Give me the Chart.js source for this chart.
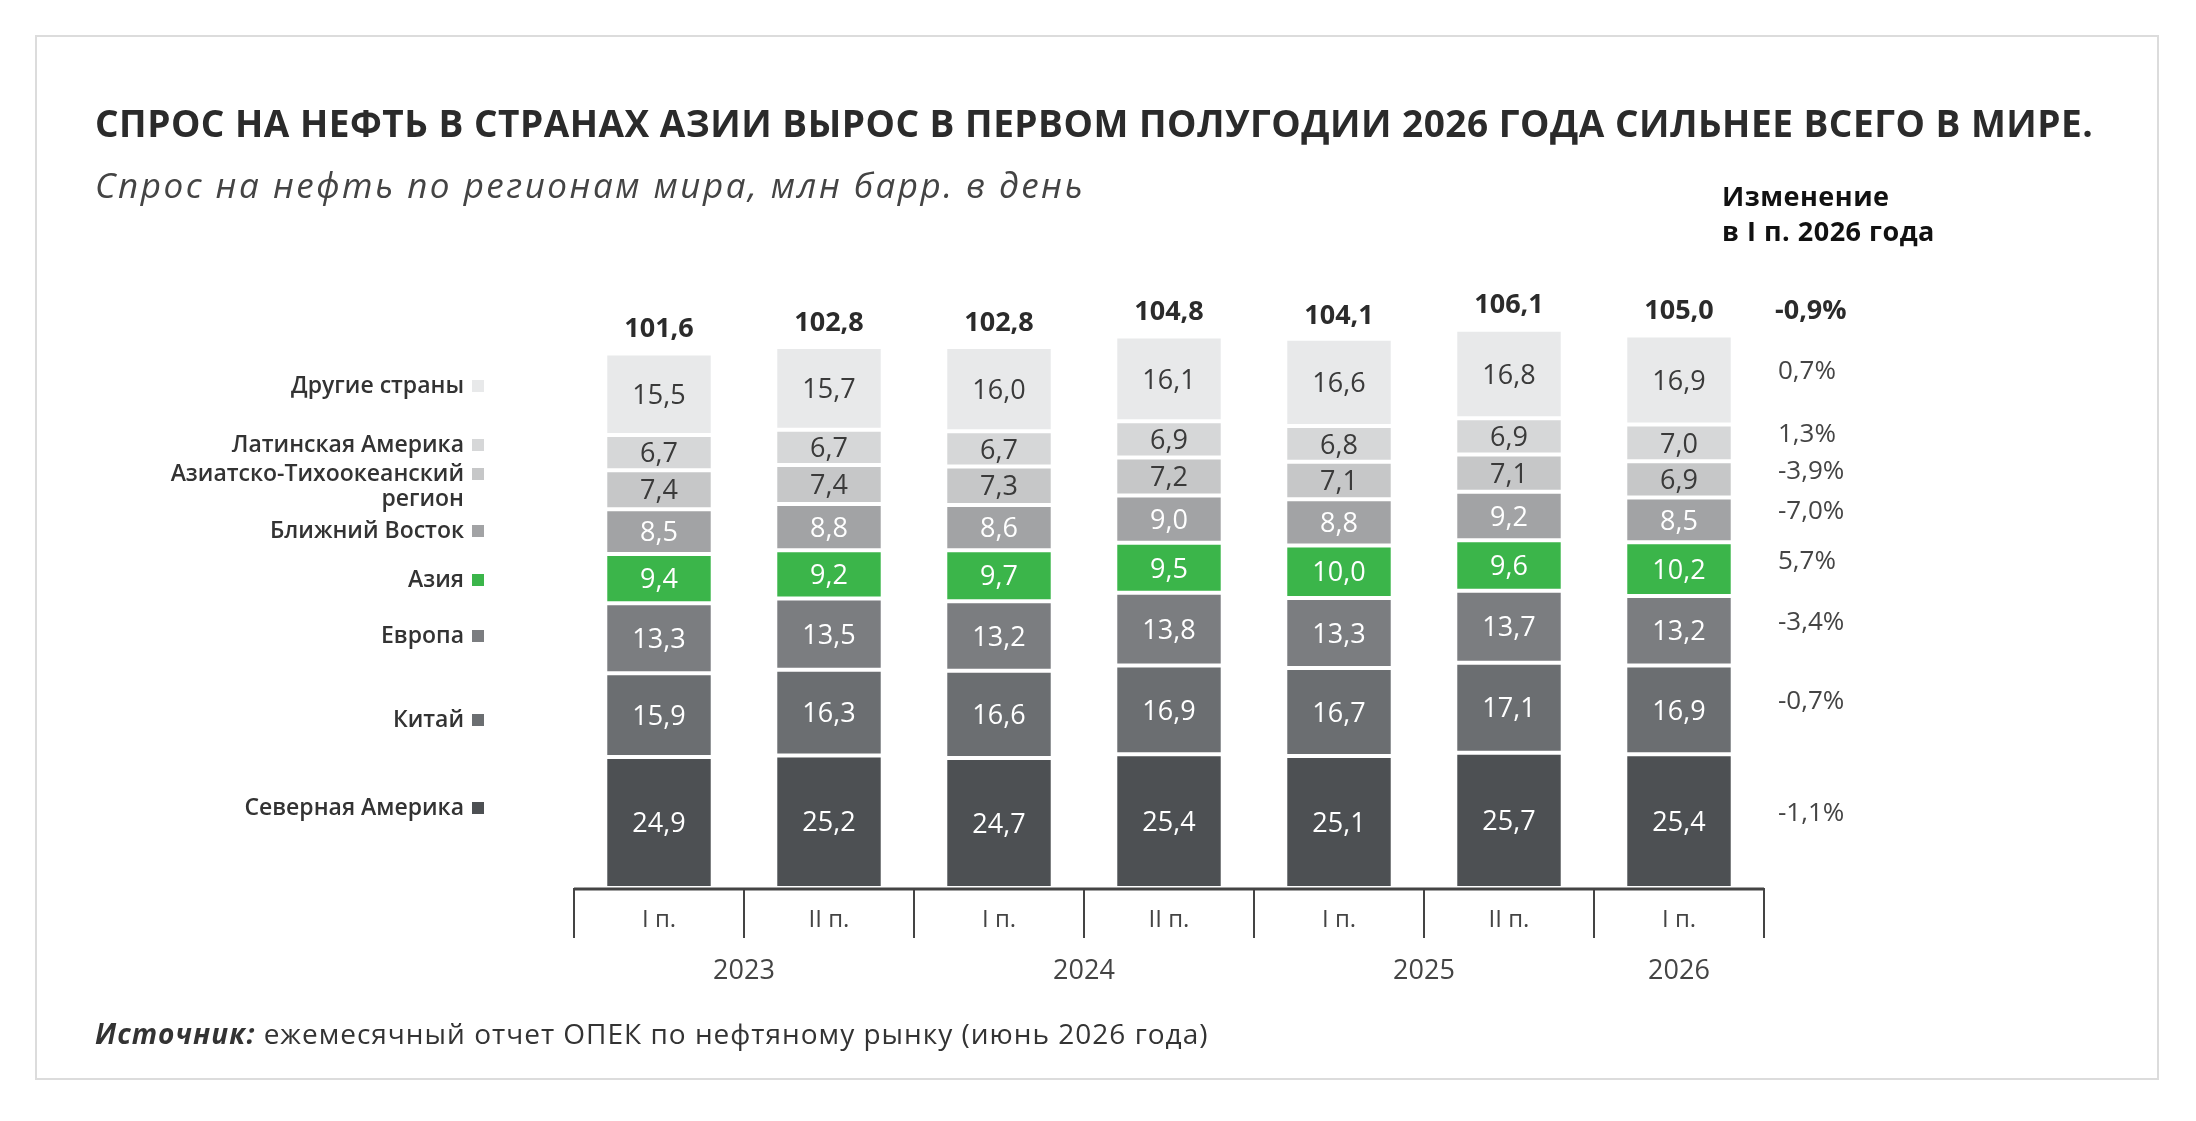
<!DOCTYPE html>
<html><head><meta charset="utf-8">
<script src="https://cdn.jsdelivr.net/npm/chart.js@4"></script>
<style>
html,body{margin:0;padding:0;background:#fff;}
#wrap{position:relative;width:2196px;height:1121px;}
</style></head>
<body><div id="wrap"><canvas id="oilChart" width="2196" height="1121"></canvas></div>
<script>
const periods = ['I п.', 'II п.', 'I п.', 'II п.', 'I п.', 'II п.', 'I п.'];
const years = ['2023', '2024', '2025', '2026'];
const yearSpans = [[0, 1], [2, 3], [4, 5], [6, 6]];
const regions = ['Северная Америка', 'Китай', 'Европа', 'Азия', 'Ближний Восток', 'Азиатско-Тихоокеанский регион', 'Латинская Америка', 'Другие страны'];
const northAmerica = [24.9, 25.2, 24.7, 25.4, 25.1, 25.7, 25.4];
const china = [15.9, 16.3, 16.6, 16.9, 16.7, 17.1, 16.9];
const europe = [13.3, 13.5, 13.2, 13.8, 13.3, 13.7, 13.2];
const asia = [9.4, 9.2, 9.7, 9.5, 10.0, 9.6, 10.2];
const middleEast = [8.5, 8.8, 8.6, 9.0, 8.8, 9.2, 8.5];
const asiaPacific = [7.4, 7.4, 7.3, 7.2, 7.1, 7.1, 6.9];
const latinAmerica = [6.7, 6.7, 6.7, 6.9, 6.8, 6.9, 7.0];
const others = [15.5, 15.7, 16.0, 16.1, 16.6, 16.8, 16.9];
const totals = [101.6, 102.8, 102.8, 104.8, 104.1, 106.1, 105.0];
const changes = ['-1,1%', '-0,7%', '-3,4%', '5,7%', '-7,0%', '-3,9%', '1,3%', '0,7%'];
const totalChange = '-0,9%';

const COLORS = ['#4d5053', '#6b6e71', '#7b7d80', '#3bb54a', '#a2a3a5', '#c6c7c8', '#d6d7d8', '#e8e9ea'];
const TEXT_COLORS = ['#fff', '#fff', '#fff', '#fff', '#fff', '#3a3a3a', '#3a3a3a', '#3a3a3a'];
const series = [northAmerica, china, europe, asia, middleEast, asiaPacific, latinAmerica, others];
const FONT = '"Open Sans", "Noto Sans", sans-serif';
const fmt = v => v.toFixed(1).replace('.', ',');

const overlay = {
    id: 'overlay',
    afterDraw(chart) {
        const { ctx, chartArea: area, scales: { x, y } } = chart;
        ctx.save();
        // frame
        ctx.strokeStyle = '#dcdcdc'; ctx.lineWidth = 2;
        ctx.strokeRect(36, 36, 2122, 1043);
        // titles
        ctx.fillStyle = '#2b2b2b'; ctx.textBaseline = 'middle'; ctx.textAlign = 'left';
        ctx.font = `bold 37px ${FONT}`;
        ctx.letterSpacing = '0.5px';
        ctx.fillText('СПРОС НА НЕФТЬ В СТРАНАХ АЗИИ ВЫРОС В ПЕРВОМ ПОЛУГОДИИ 2026 ГОДА СИЛЬНЕЕ ВСЕГО В МИРЕ.', 95, 126);
        ctx.fillStyle = '#444'; ctx.font = `italic 35px ${FONT}`;
        ctx.letterSpacing = '2.5px';
        ctx.fillText('Спрос на нефть по регионам мира, млн барр. в день', 95, 188);
        ctx.letterSpacing = '0.5px';
        ctx.fillStyle = '#111'; ctx.font = `bold 27px ${FONT}`;
        ctx.fillText('Изменение', 1722, 198);
        ctx.fillText('в I п. 2026 года', 1722, 233);
        ctx.letterSpacing = '0px';

        // segment values
        series.forEach((s, i) => {
            const meta = chart.getDatasetMeta(i);
            meta.data.forEach((bar, j) => {
                ctx.fillStyle = TEXT_COLORS[i]; ctx.textAlign = 'center';
                ctx.font = `27px ${FONT}`;
                ctx.fillText(fmt(s[j]), bar.x, (bar.y + bar.base) / 2 + 2);
            });
        });
        // totals
        totals.forEach((t, j) => {
            const bx = x.getPixelForValue(j);
            ctx.fillStyle = '#2b2b2b'; ctx.font = `bold 27px ${FONT}`; ctx.textAlign = 'center';
            ctx.fillText(fmt(t), bx, y.getPixelForValue(t) - 24);
        });
        // left legend + change column
        let cum0 = 0, cumL = 0;
        const last = periods.length - 1;
        const labelY = [808, 720, 636, 580, 531, 474, 445, 386];
        series.forEach((s, i) => {
            const midL = y.getPixelForValue(cumL + s[last] / 2);
            cumL += s[last];
            ctx.fillStyle = '#333'; ctx.font = `600 23px ${FONT}`; ctx.textAlign = 'right';
            const ly = labelY[i];
            if (i === 5) {
                ctx.fillText('Азиатско-Тихоокеанский', 464, ly);
                ctx.fillText('регион', 464, ly + 25);
            } else {
                ctx.fillText(regions[i], 464, ly);
            }
            ctx.fillStyle = COLORS[i];
            ctx.fillRect(472, ly - 6, 12, 12);
            ctx.fillStyle = '#444'; ctx.font = `26px ${FONT}`; ctx.textAlign = 'left';
            ctx.fillText(changes[i], 1778, midL - 8);
        });
        ctx.fillStyle = '#2b2b2b'; ctx.font = `bold 27px ${FONT}`; ctx.textAlign = 'left';
        ctx.fillText(totalChange, 1775, y.getPixelForValue(totals[last]) - 24);

        // category axis
        const step = x.getPixelForValue(1) - x.getPixelForValue(0);
        const left = x.getPixelForValue(0) - step / 2;
        ctx.strokeStyle = '#444'; ctx.lineWidth = 3;
        ctx.beginPath(); ctx.moveTo(left, area.bottom + 1); ctx.lineTo(left + step * periods.length, area.bottom + 1); ctx.stroke();
        ctx.lineWidth = 2;
        for (let k = 0; k <= periods.length; k++) {
            ctx.beginPath(); ctx.moveTo(left + k * step, area.bottom); ctx.lineTo(left + k * step, area.bottom + 50); ctx.stroke();
        }
        ctx.fillStyle = '#444'; ctx.textAlign = 'center';
        ctx.font = `24px ${FONT}`;
        periods.forEach((p, j) => ctx.fillText(p, x.getPixelForValue(j), area.bottom + 32));
        ctx.font = `27px ${FONT}`;
        years.forEach((yr, k) => {
            const [a, b] = yearSpans[k];
            ctx.fillText(yr, (x.getPixelForValue(a) + x.getPixelForValue(b)) / 2, area.bottom + 83);
        });
        // source
        ctx.textAlign = 'left'; ctx.fillStyle = '#333';
        ctx.letterSpacing = '1px';
        ctx.font = `bold italic 28px ${FONT}`;
        ctx.fillText('Источник:', 95, 1036);
        const w = ctx.measureText('Источник: ').width;
        ctx.font = `28px ${FONT}`;
        ctx.fillText('ежемесячный отчет ОПЕК по нефтяному рынку (июнь 2026 года)', 95 + w, 1036);
        ctx.restore();
    }
};

new Chart(document.getElementById('oilChart'), {
    type: 'bar',
    data: {
        labels: periods,
        datasets: series.map((s, i) => ({
            label: regions[i],
            data: s,
            backgroundColor: COLORS[i],
            borderColor: '#fff',
            borderWidth: { top: 2, bottom: 2, left: 0, right: 0 },
            borderSkipped: false,
            categoryPercentage: 1,
            barPercentage: 0.61
        }))
    },
    options: {
        responsive: false,
        animation: false,
        layout: { padding: { left: 574, right: 432, top: 204, bottom: 233 } },
        plugins: { legend: { display: false }, tooltip: { enabled: false } },
        scales: {
            x: { stacked: true, display: false },
            y: { stacked: true, display: false, min: 0, max: 130 }
        }
    },
    plugins: [overlay]
});
</script></body></html>
